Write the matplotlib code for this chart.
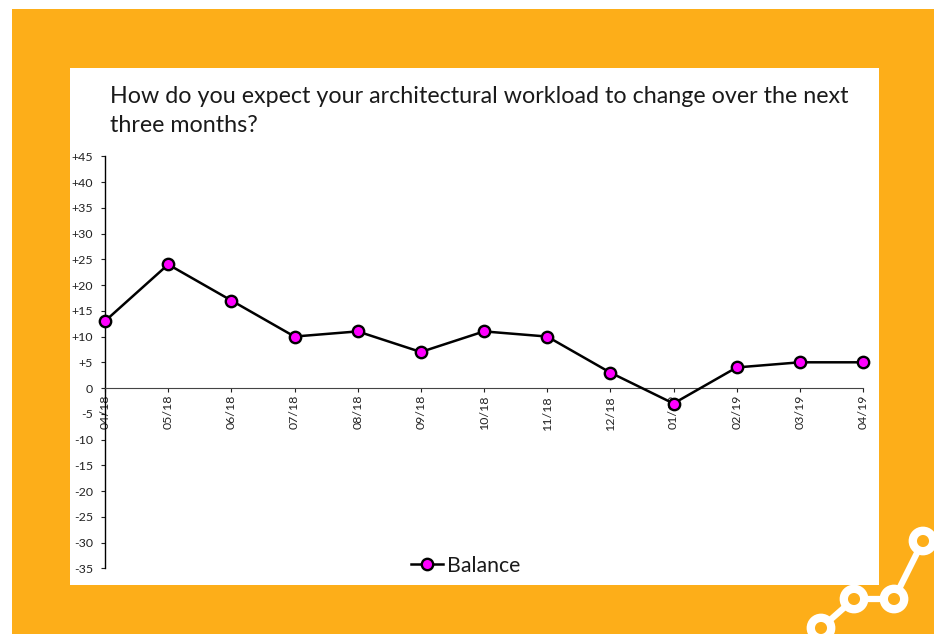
import matplotlib
matplotlib.use("Agg")
import matplotlib.pyplot as plt
from matplotlib.patches import Rectangle, Circle
from matplotlib.lines import Line2D

months = ["04/18", "05/18", "06/18", "07/18", "08/18", "09/18", "10/18",
          "11/18", "12/18", "01/19", "02/19", "03/19", "04/19"]
balance = [13, 24, 17, 10, 11, 7, 11, 10, 3, -3, 4, 5, 5]
y_ticks = list(range(-35, 50, 5))
y_labels = ["+%d" % v if v > 0 else str(v) for v in y_ticks]
title = "How do you expect your architectural workload to change over the next\nthree months?"
series_name = "Balance"

W, H = 938, 634
ORANGE = "#FDAE19"
plt.rcParams["font.family"] = ["Lato", "DejaVu Sans"]
fig = plt.figure(figsize=(W / 100, H / 100), dpi=100, facecolor="white")

bg = fig.add_axes([0, 0, 1, 1], zorder=0)
bg.set_xlim(0, W)
bg.set_ylim(H, 0)
bg.axis("off")
bg.add_patch(Rectangle((12, 9), 922, 626, fc=ORANGE, ec="none"))
bg.add_patch(Rectangle((70, 68), 809, 517, fc="white", ec="none"))
nodes = [(821, 628), (854, 599), (894, 599), (923, 541)]
bg.add_line(Line2D([p[0] for p in nodes], [p[1] for p in nodes], color="white", lw=4.5, zorder=2))
for p in nodes:
    bg.add_patch(Circle(p, 10.2, fc=ORANGE, ec="white", lw=6, zorder=3))

x0, x1 = 105, 863
y_top, y_bot = 156.3, 568.3
ax = fig.add_axes([x0 / W, 1 - y_bot / H, (x1 - x0) / W, (y_bot - y_top) / H], zorder=1)
ax.patch.set_alpha(0)
for s in ("top", "right"):
    ax.spines[s].set_visible(False)
ax.spines["bottom"].set_position(("data", 0))
ax.spines["bottom"].set_color("#444444")
ax.spines["left"].set_linewidth(1.0)
xs = list(range(len(months)))
line, = ax.plot(xs, balance, color="black", lw=1.8, marker="o", ms=8.2,
                mfc="#FF00FF", mec="black", mew=1.7, clip_on=False, zorder=5,
                label=series_name)
ax.set_axisbelow(True)
ax.set_xlim(0, len(months) - 1)
ax.set_ylim(-35, 45)
ax.set_yticks(y_ticks)
ax.set_yticklabels(y_labels)
ax.set_xticks(xs)
ax.set_xticklabels(months)
ax.tick_params(axis="y", length=3, width=0.8, labelsize=8.9, pad=5.5, colors="#222222")
ax.tick_params(axis="x", length=3, width=0.8, labelsize=8.9, pad=2, colors="#222222",
               labelrotation=90)

fig.text(110 / W, 1 - 111 / H, title, fontsize=16.75, color="#1a1a1a",
         ha="left", va="center", linespacing=1.52, zorder=3)

leg = fig.legend(handles=[line], loc="center", bbox_to_anchor=(466 / W, 1 - 565.5 / H),
                 frameon=False, fontsize=15.3, handlelength=1.5, handletextpad=0.2,
                 labelcolor="#1a1a1a", borderpad=0)
fig.savefig("out.png", dpi=100)
